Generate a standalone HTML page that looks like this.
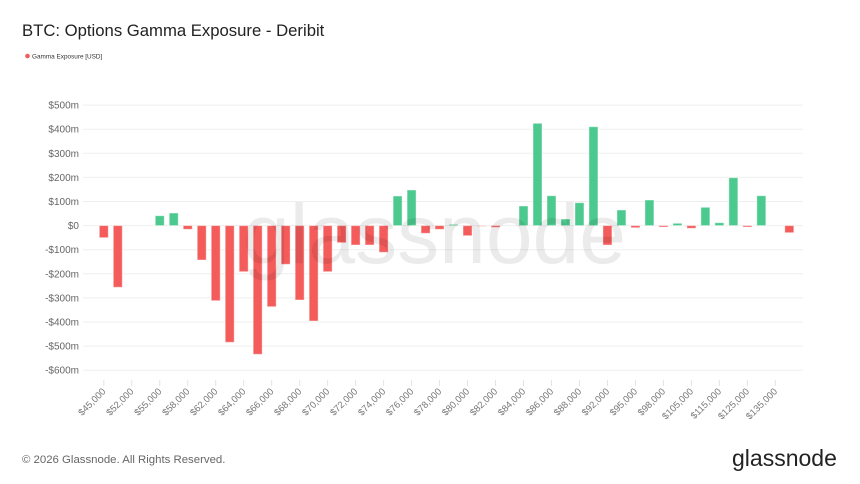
<!DOCTYPE html>
<html>
<head>
<meta charset="utf-8">
<style>
  html, body { margin:0; padding:0; background:#ffffff; }
  body { width:860px; height:484px; overflow:hidden; font-family:"Liberation Sans", sans-serif; }
  svg { display:block; }
</style>
</head>
<body>
<svg width="860" height="484" viewBox="0 0 860 484" xmlns="http://www.w3.org/2000/svg" font-family="Liberation Sans, sans-serif">
  <rect width="860" height="484" fill="#ffffff"/>
  <!-- Title -->
  <text x="22" y="36" font-size="16.7" fill="#222">BTC: Options Gamma Exposure - Deribit</text>
  <!-- Legend -->
  <circle cx="27.5" cy="56" r="2.3" fill="#f45b5b"/>
  <text x="32" y="58.3" font-size="6.4" fill="#333">Gamma Exposure [USD]</text>

  <!-- Grid lines -->
  <g stroke="#efefef" stroke-width="1">
    <line x1="83" x2="803" y1="105.1" y2="105.1"/>
    <line x1="83" x2="803" y1="129.2" y2="129.2"/>
    <line x1="83" x2="803" y1="153.3" y2="153.3"/>
    <line x1="83" x2="803" y1="177.4" y2="177.4"/>
    <line x1="83" x2="803" y1="201.5" y2="201.5"/>
    <line x1="83" x2="803" y1="225.6" y2="225.6"/>
    <line x1="83" x2="803" y1="249.7" y2="249.7"/>
    <line x1="83" x2="803" y1="273.8" y2="273.8"/>
    <line x1="83" x2="803" y1="297.9" y2="297.9"/>
    <line x1="83" x2="803" y1="322.0" y2="322.0"/>
    <line x1="83" x2="803" y1="346.1" y2="346.1"/>
    <line x1="83" x2="803" y1="370.2" y2="370.2"/>
  </g>

  <!-- Y labels -->
  <g font-size="10" fill="#666" text-anchor="end">
    <text x="79" y="108.6">$500m</text>
    <text x="79" y="132.7">$400m</text>
    <text x="79" y="156.8">$300m</text>
    <text x="79" y="180.9">$200m</text>
    <text x="79" y="205.0">$100m</text>
    <text x="79" y="229.1">$0</text>
    <text x="79" y="253.2">-$100m</text>
    <text x="79" y="277.3">-$200m</text>
    <text x="79" y="301.4">-$300m</text>
    <text x="79" y="325.5">-$400m</text>
    <text x="79" y="349.6">-$500m</text>
    <text x="79" y="373.7">-$600m</text>
  </g>

  <!-- Bars -->
  <g stroke="#ffffff" stroke-opacity="0.45" stroke-width="1">
    <g fill="#f45b5b">
      <rect x="99.3" y="225.6" width="9" height="12.1"/>
      <rect x="113.29" y="225.6" width="9" height="61.7"/>
      <rect x="183.24" y="225.6" width="9" height="3.7"/>
      <rect x="197.23" y="225.6" width="9" height="34.4"/>
      <rect x="211.22" y="225.6" width="9" height="75.1"/>
      <rect x="225.21" y="225.6" width="9" height="116.7"/>
      <rect x="239.2" y="225.6" width="9" height="46.1"/>
      <rect x="253.19" y="225.6" width="9" height="128.7"/>
      <rect x="267.18" y="225.6" width="9" height="81.1"/>
      <rect x="281.17" y="225.6" width="9" height="38.7"/>
      <rect x="295.16" y="225.6" width="9" height="74.4"/>
      <rect x="309.15" y="225.6" width="9" height="95.4"/>
      <rect x="323.14" y="225.6" width="9" height="46.1"/>
      <rect x="337.13" y="225.6" width="9" height="17.1"/>
      <rect x="351.12" y="225.6" width="9" height="19.4"/>
      <rect x="365.11" y="225.6" width="9" height="19.4"/>
      <rect x="379.1" y="225.6" width="9" height="26.7"/>
      <rect x="421.07" y="225.6" width="9" height="7.7"/>
      <rect x="435.06" y="225.6" width="9" height="3.7"/>
      <rect x="463.04" y="225.6" width="9" height="10.1"/>
      <rect x="477.03" y="225.6" width="9" height="0.8" fill-opacity="0.6"/>
      <rect x="491.02" y="225.6" width="9" height="1.7"/>
      <rect x="602.94" y="225.6" width="9" height="19.4"/>
      <rect x="630.92" y="225.6" width="9" height="2.1"/>
      <rect x="658.9" y="225.6" width="9" height="1.4"/>
      <rect x="686.88" y="225.6" width="9" height="2.7"/>
      <rect x="742.84" y="225.6" width="9" height="1.4"/>
      <rect x="784.81" y="225.6" width="9" height="7.1"/>
    </g>
    <g fill="#4cc98f">
      <rect x="155.26" y="215.7" width="9" height="9.9"/>
      <rect x="169.25" y="213" width="9" height="12.6"/>
      <rect x="393.09" y="196" width="9" height="29.6"/>
      <rect x="407.08" y="190" width="9" height="35.6"/>
      <rect x="449.05" y="224.4" width="9" height="1.2"/>
      <rect x="519.0" y="206" width="9" height="19.6"/>
      <rect x="532.99" y="123.3" width="9" height="102.3"/>
      <rect x="546.98" y="195.7" width="9" height="29.9"/>
      <rect x="560.97" y="219" width="9" height="6.6"/>
      <rect x="574.96" y="202.7" width="9" height="22.9"/>
      <rect x="588.95" y="126.7" width="9" height="98.9"/>
      <rect x="616.93" y="210" width="9" height="15.6"/>
      <rect x="644.91" y="200" width="9" height="25.6"/>
      <rect x="672.89" y="223.3" width="9" height="2.3"/>
      <rect x="700.87" y="207.3" width="9" height="18.3"/>
      <rect x="714.86" y="222.7" width="9" height="2.9"/>
      <rect x="728.85" y="177.7" width="9" height="47.9"/>
      <rect x="756.83" y="195.7" width="9" height="29.9"/>
    </g>
  </g>

  <!-- Watermark -->
  <text x="243" y="263" font-size="84" fill="#000" fill-opacity="0.08">glassnode</text>

  <!-- X ticks -->
  <g stroke="#e3e3e3" stroke-width="1">
    <line x1="103.8" x2="103.8" y1="380" y2="386"/>
    <line x1="131.78" x2="131.78" y1="380" y2="386"/>
    <line x1="159.76" x2="159.76" y1="380" y2="386"/>
    <line x1="187.74" x2="187.74" y1="380" y2="386"/>
    <line x1="215.72" x2="215.72" y1="380" y2="386"/>
    <line x1="243.7" x2="243.7" y1="380" y2="386"/>
    <line x1="271.68" x2="271.68" y1="380" y2="386"/>
    <line x1="299.66" x2="299.66" y1="380" y2="386"/>
    <line x1="327.64" x2="327.64" y1="380" y2="386"/>
    <line x1="355.62" x2="355.62" y1="380" y2="386"/>
    <line x1="383.6" x2="383.6" y1="380" y2="386"/>
    <line x1="411.58" x2="411.58" y1="380" y2="386"/>
    <line x1="439.56" x2="439.56" y1="380" y2="386"/>
    <line x1="467.54" x2="467.54" y1="380" y2="386"/>
    <line x1="495.52" x2="495.52" y1="380" y2="386"/>
    <line x1="523.5" x2="523.5" y1="380" y2="386"/>
    <line x1="551.48" x2="551.48" y1="380" y2="386"/>
    <line x1="579.46" x2="579.46" y1="380" y2="386"/>
    <line x1="607.44" x2="607.44" y1="380" y2="386"/>
    <line x1="635.42" x2="635.42" y1="380" y2="386"/>
    <line x1="663.4" x2="663.4" y1="380" y2="386"/>
    <line x1="691.38" x2="691.38" y1="380" y2="386"/>
    <line x1="719.36" x2="719.36" y1="380" y2="386"/>
    <line x1="747.34" x2="747.34" y1="380" y2="386"/>
    <line x1="775.32" x2="775.32" y1="380" y2="386"/>
  </g>

  <!-- X labels -->
  <g font-size="9.5" fill="#777" text-anchor="end">
    <text transform="translate(106.3,392) rotate(-45)">$45,000</text>
    <text transform="translate(134.28,392) rotate(-45)">$52,000</text>
    <text transform="translate(162.26,392) rotate(-45)">$55,000</text>
    <text transform="translate(190.24,392) rotate(-45)">$58,000</text>
    <text transform="translate(218.22,392) rotate(-45)">$62,000</text>
    <text transform="translate(246.2,392) rotate(-45)">$64,000</text>
    <text transform="translate(274.18,392) rotate(-45)">$66,000</text>
    <text transform="translate(302.16,392) rotate(-45)">$68,000</text>
    <text transform="translate(330.14,392) rotate(-45)">$70,000</text>
    <text transform="translate(358.12,392) rotate(-45)">$72,000</text>
    <text transform="translate(386.1,392) rotate(-45)">$74,000</text>
    <text transform="translate(414.08,392) rotate(-45)">$76,000</text>
    <text transform="translate(442.06,392) rotate(-45)">$78,000</text>
    <text transform="translate(470.04,392) rotate(-45)">$80,000</text>
    <text transform="translate(498.02,392) rotate(-45)">$82,000</text>
    <text transform="translate(526.0,392) rotate(-45)">$84,000</text>
    <text transform="translate(553.98,392) rotate(-45)">$86,000</text>
    <text transform="translate(581.96,392) rotate(-45)">$88,000</text>
    <text transform="translate(609.94,392) rotate(-45)">$92,000</text>
    <text transform="translate(637.92,392) rotate(-45)">$95,000</text>
    <text transform="translate(665.9,392) rotate(-45)">$98,000</text>
    <text transform="translate(693.88,392) rotate(-45)">$105,000</text>
    <text transform="translate(721.86,392) rotate(-45)">$115,000</text>
    <text transform="translate(749.84,392) rotate(-45)">$125,000</text>
    <text transform="translate(777.82,392) rotate(-45)">$135,000</text>
  </g>

  <!-- Footer -->
  <text x="22" y="463" font-size="11.4" fill="#666">© 2026 Glassnode. All Rights Reserved.</text>
  <text x="732" y="466" font-size="23" fill="#222">glassnode</text>
</svg>
</body>
</html>
